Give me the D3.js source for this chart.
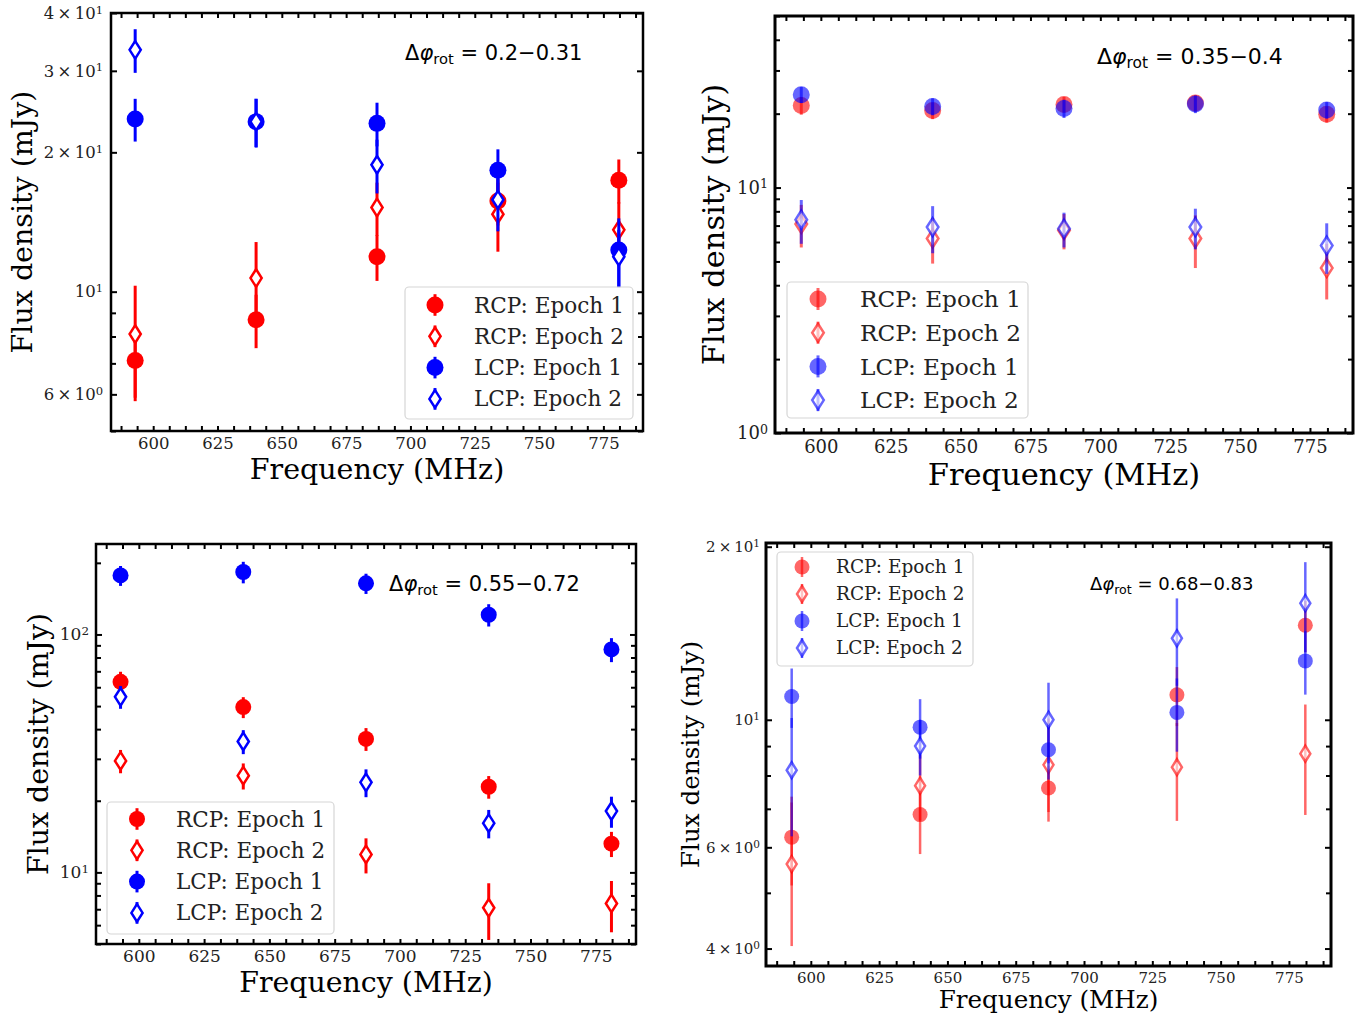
<!DOCTYPE html>
<html>
<head>
<meta charset="utf-8">
<script src="https://cdn.jsdelivr.net/npm/d3@7"></script>
<style>
  body { margin: 0; background: #fff; }
</style>
</head>
<body>
<div id="chart"></div>
<script>
var svgWidth = 1371;
var svgHeight = 1019;

// shared x values (MHz) and legend names
var freqs = [593, 640, 687, 734, 781];
var seriesNames = ["RCP: Epoch 1", "RCP: Epoch 2", "LCP: Epoch 1", "LCP: Epoch 2"];
var phaseLabels = ["0.2\u22120.31", "0.35\u22120.4", "0.55\u22120.72", "0.68\u22120.83"];
var xTickLabels = [600, 625, 650, 675, 700, 725, 750, 775];

// panel A  (dphi 0.2-0.31)
var rcp1A = [7.1, 8.7, 11.9, 15.7, 17.4];
var rcp1ErrA = [1.3, 1.15, 1.35, 1.8, 1.9];
var rcp2A = [8.1, 10.7, 15.2, 14.7, 13.6];
var rcp2ErrA = [2.2, 2.1, 2.0, 2.5, 2.0];
var lcp1A = [23.6, 23.3, 23.1, 18.3, 12.3];
var lcp1ErrA = [2.5, 2.8, 2.5, 2.0, 2.1];
var lcp2A = [33.3, 23.3, 18.8, 15.8, 11.9];
var lcp2ErrA = [3.6, 2.8, 2.5, 2.3, 1.7];
var yTicksA = [[40, "4", "1"], [30, "3", "1"], [20, "2", "1"], [10, "", "1"], [6, "6", "0"]];

// panel B  (dphi 0.35-0.4)
var rcp1B = [21.6, 20.6, 21.8, 22.1, 19.9];
var rcp1ErrB = [1.8, 1.6, 1.6, 1.7, 1.5];
var rcp2B = [7.1, 6.2, 6.7, 6.2, 4.7];
var rcp2ErrB = [1.4, 1.3, 1.1, 1.5, 1.2];
var lcp1B = [23.9, 21.4, 21.0, 21.9, 20.7];
var lcp1ErrB = [1.8, 1.7, 1.8, 1.8, 1.6];
var lcp2B = [7.4, 6.9, 6.8, 6.9, 5.8];
var lcp2ErrB = [1.5, 1.5, 1.1, 1.3, 1.35];
var yTicksB = [[10, "", "1"], [1, "", "0"]];

// panel C  (dphi 0.55-0.72)
var rcp1C = [63.2, 49.5, 36.4, 22.9, 13.2];
var rcp1ErrC = [6.5, 5, 4, 2.5, 1.6];
var rcp2C = [29.4, 25.5, 11.9, 7.1, 7.4];
var rcp2ErrC = [3.3, 3.2, 2.0, 1.9, 1.8];
var lcp1C = [177, 183, 164, 121, 86.5];
var lcp1ErrC = [17, 19, 16, 13, 10];
var lcp2C = [54.7, 35.5, 23.9, 16.1, 18.1];
var lcp2ErrC = [6, 4.1, 3.2, 2.2, 2.7];
var yTicksC = [[100, "", "2"], [10, "", "1"]];

// panel D  (dphi 0.68-0.83)
var rcp1D = [6.25, 6.84, 7.61, 11.05, 14.6];
var rcp1ErrD = [1.1, 1.0, 0.7, 1.3, 1.5];
var rcp2D = [5.61, 7.68, 8.35, 8.27, 8.73];
var rcp2ErrD = [1.57, 1.0, 1.7, 1.6, 1.9];
var lcp1D = [10.98, 9.71, 8.87, 10.3, 12.66];
var lcp1ErrD = [1.3, 1.15, 1.0, 1.5, 1.6];
var lcp2D = [8.17, 9.0, 10.0, 13.86, 15.95];
var lcp2ErrD = [1.9, 1.0, 1.6, 2.4, 2.85];
var yTicksD = [[20, "2", "1"], [10, "", "1"], [6, "6", "0"], [4, "4", "0"]];

var seriesColors = ["#ff0000", "#ff0000", "#0000ff", "#0000ff"];
var seriesShapes = ["circle", "diamond", "circle", "diamond"];

var svg = d3.select("#chart")
    .append("svg")
    .attr("width", svgWidth)
    .attr("height", svgHeight);

var serif = "'DejaVu Serif', serif";
var sans = "'DejaVu Sans', sans-serif";

var xDomain = [583.6, 790.4];
var xMinor = d3.range(587.5, 790, 6.25).filter(v => xTickLabels.indexOf(v) < 0);

var panels = [
  {id: "a", left: 111, top: 13, right: 643, bottom: 431, yDomain: [5, 40], yTicks: yTicksA,
   values: [rcp1A, rcp2A, lcp1A, lcp2A], errs: [rcp1ErrA, rcp2ErrA, lcp1ErrA, lcp2ErrA],
   alpha: 1, r: 8.5, dh: 8.8, dw: 5.6, lw: 3, frame: 2.5,
   tickFont: 16.5, labelFont: 28.5, legendFont: 21.6, titleFont: 21,
   xPad: 6, yPad: 8, xLabelY: 479, yLabelX: 22,
   title: {x: 405, y: 60}, phase: phaseLabels[0],
   legend: {x: 405, y: 287, w: 228, h: 132, mx: 435, tx: 474, y0: 305, dy: 31.3}},
  {id: "b", left: 775, top: 16, right: 1353, bottom: 433, yDomain: [1, 50], yTicks: yTicksB,
   values: [rcp1B, rcp2B, lcp1B, lcp2B], errs: [rcp1ErrB, rcp2ErrB, lcp1ErrB, lcp2ErrB],
   alpha: 0.6, r: 8.5, dh: 9, dw: 5.8, lw: 3, frame: 3,
   tickFont: 18, labelFont: 30.5, legendFont: 23.2, titleFont: 22,
   xPad: 7, yPad: 7, xLabelY: 485, yLabelX: 713,
   title: {x: 1097, y: 64}, phase: phaseLabels[1],
   legend: {x: 787, y: 282, w: 241, h: 136, mx: 818, tx: 860, y0: 299, dy: 33.7}},
  {id: "c", left: 96, top: 544, right: 636, bottom: 944, yDomain: [5, 240], yTicks: yTicksC,
   values: [rcp1C, rcp2C, lcp1C, lcp2C], errs: [rcp1ErrC, rcp2ErrC, lcp1ErrC, lcp2ErrC],
   alpha: 1, r: 8, dh: 8.8, dw: 5.6, lw: 3, frame: 2.5,
   tickFont: 17, labelFont: 28.4, legendFont: 21.5, titleFont: 21,
   xPad: 6, yPad: 7, xLabelY: 992, yLabelX: 38,
   title: {x: 389, y: 591}, phase: phaseLabels[2],
   legend: {x: 107, y: 802, w: 227, h: 132, mx: 137, tx: 176, y0: 819, dy: 31.3}},
  {id: "d", left: 766, top: 543, right: 1331, bottom: 966, yDomain: [3.73, 20.3], yTicks: yTicksD,
   values: [rcp1D, rcp2D, lcp1D, lcp2D], errs: [rcp1ErrD, rcp2ErrD, lcp1ErrD, lcp2ErrD],
   alpha: 0.6, r: 7.5, dh: 8, dw: 5, lw: 2.5, frame: 3,
   tickFont: 15, labelFont: 24.6, legendFont: 18.5, titleFont: 18,
   xPad: 6, yPad: 6, xLabelY: 1008, yLabelX: 690,
   title: {x: 1090, y: 590}, phase: phaseLabels[3],
   legend: {x: 777, y: 552, w: 196, h: 114, mx: 802, tx: 836, y0: 567, dy: 27}}
];

function markerPath(g, shape, cx, cy, p, color) {
  if (shape === "circle") {
    g.append("circle")
      .attr("cx", cx).attr("cy", cy).attr("r", p.r)
      .attr("fill", color).attr("fill-opacity", p.alpha);
  } else {
    g.append("path")
      .attr("d", `M${cx},${cy - p.dh}L${cx + p.dw},${cy}L${cx},${cy + p.dh}L${cx - p.dw},${cy}Z`)
      .attr("fill", "#fff").attr("fill-opacity", p.alpha)
      .attr("stroke", color).attr("stroke-opacity", p.alpha)
      .attr("stroke-width", 2.5);
  }
}

function minorLogTicks(dom) {
  var out = [];
  for (var e = -1; e < 4; e++) {
    for (var m = 1; m < 10; m++) {
      var v = m * Math.pow(10, e);
      if (v >= dom[0] * 0.999 && v <= dom[1] * 1.001) out.push(v);
    }
  }
  return out;
}

function drawPanel(p) {
  var x = d3.scaleLinear().domain(xDomain).range([p.left, p.right]);
  var y = d3.scaleLog().domain(p.yDomain).range([p.bottom, p.top]);
  var g = svg.append("g");

  g.append("clipPath").attr("id", "clip-" + p.id)
    .append("rect")
    .attr("x", p.left).attr("y", p.top)
    .attr("width", p.right - p.left).attr("height", p.bottom - p.top);

  // data: error bars then markers, one series after another
  var plot = g.append("g").attr("clip-path", `url(#clip-${p.id})`);
  p.values.forEach(function(vals, s) {
    var sg = plot.append("g");
    var color = seriesColors[s];
    sg.selectAll("line")
      .data(freqs)
      .enter()
      .append("line")
      .attr("x1", d => x(d)).attr("x2", d => x(d))
      .attr("y1", (d, i) => y(vals[i] + p.errs[s][i]))
      .attr("y2", (d, i) => y(Math.max(vals[i] - p.errs[s][i], 0.1)))
      .attr("stroke", color).attr("stroke-opacity", p.alpha)
      .attr("stroke-width", p.lw);
    freqs.forEach(function(f, i) {
      markerPath(sg, seriesShapes[s], x(f), y(vals[i]), p, color);
    });
  });

  // ticks, all pointing inwards
  var tl = 5, tly = 6;
  var axes = g.append("g");
  axes.append("g")
    .attr("transform", `translate(0,${p.bottom})`)
    .call(d3.axisBottom(x).tickValues(xTickLabels).tickSizeInner(-tl).tickSizeOuter(0).tickPadding(p.xPad));
  axes.append("g")
    .attr("transform", `translate(0,${p.bottom})`)
    .call(d3.axisBottom(x).tickValues(xMinor).tickSize(-tl).tickFormat(""));
  axes.append("g")
    .attr("transform", `translate(0,${p.top})`)
    .call(d3.axisTop(x).tickValues(xTickLabels.concat(xMinor)).tickSize(-tl).tickFormat(""));

  var yLabelled = p.yTicks.map(d => d[0]);
  var yMinor = minorLogTicks(p.yDomain).filter(v => yLabelled.indexOf(v) < 0);
  var leftAxis = axes.append("g")
    .attr("transform", `translate(${p.left},0)`)
    .call(d3.axisLeft(y).tickValues(yLabelled).tickSizeInner(-tly).tickSizeOuter(0).tickPadding(p.yPad).tickFormat(""));
  axes.append("g")
    .attr("transform", `translate(${p.left},0)`)
    .call(d3.axisLeft(y).tickValues(yMinor).tickSize(-tl).tickFormat(""));
  axes.append("g")
    .attr("transform", `translate(${p.right},0)`)
    .call(d3.axisRight(y).tickValues(yLabelled).tickSize(-tly).tickFormat(""));
  axes.append("g")
    .attr("transform", `translate(${p.right},0)`)
    .call(d3.axisRight(y).tickValues(yMinor).tickSize(-tl).tickFormat(""));

  axes.selectAll(".domain").remove();
  axes.selectAll(".tick line").attr("stroke", "#000").attr("stroke-width", 2);
  axes.selectAll("text")
    .attr("font-family", serif)
    .attr("font-size", p.tickFont)
    .attr("fill", "#222");

  // y labels like 4 x 10^1
  leftAxis.selectAll(".tick text").each(function(v, i) {
    var t = d3.select(this);
    var lab = p.yTicks[i];
    t.text(lab[1] ? lab[1] + "\u2009\u00d7\u200910" : "10");
    t.append("tspan")
      .attr("dy", "-0.45em")
      .attr("font-size", p.tickFont * 0.7)
      .text(lab[2]);
  });

  // frame
  g.append("rect")
    .attr("x", p.left).attr("y", p.top)
    .attr("width", p.right - p.left).attr("height", p.bottom - p.top)
    .attr("fill", "none").attr("stroke", "#000").attr("stroke-width", p.frame);

  // axis titles
  g.append("text")
    .attr("x", (p.left + p.right) / 2).attr("y", p.xLabelY)
    .attr("text-anchor", "middle")
    .attr("font-family", serif).attr("font-size", p.labelFont)
    .attr("fill", "#000")
    .text("Frequency (MHz)");
  g.append("text")
    .attr("transform", `translate(${p.yLabelX},${(p.top + p.bottom) / 2})rotate(-90)`)
    .attr("text-anchor", "middle").attr("dy", "0.35em")
    .attr("font-family", serif).attr("font-size", p.labelFont)
    .attr("fill", "#000")
    .text("Flux density (mJy)");

  // phase annotation
  var title = g.append("text")
    .attr("x", p.title.x).attr("y", p.title.y)
    .attr("font-family", sans).attr("font-size", p.titleFont)
    .attr("fill", "#000");
  title.append("tspan").text("\u0394");
  title.append("tspan").attr("font-style", "italic").text("\u03c6");
  title.append("tspan").attr("dy", "0.28em").attr("font-size", p.titleFont * 0.7).text("rot");
  title.append("tspan").attr("dy", "-0.2em").text(" = " + p.phase);

  // legend
  var L = p.legend;
  var lg = g.append("g");
  lg.append("rect")
    .attr("x", L.x).attr("y", L.y).attr("width", L.w).attr("height", L.h)
    .attr("rx", 4)
    .attr("fill", "#fff").attr("fill-opacity", 0.85)
    .attr("stroke", "#d6d6d6").attr("stroke-width", 1.2);
  seriesNames.forEach(function(name, s) {
    var cy = L.y0 + s * L.dy;
    var color = seriesColors[s];
    lg.append("line")
      .attr("x1", L.mx).attr("x2", L.mx)
      .attr("y1", cy - p.dh - 2).attr("y2", cy + p.dh + 2)
      .attr("stroke", color).attr("stroke-opacity", p.alpha)
      .attr("stroke-width", p.lw);
    markerPath(lg, seriesShapes[s], L.mx, cy, p, color);
    lg.append("text")
      .attr("x", L.tx).attr("y", cy).attr("dy", "0.35em")
      .attr("font-family", serif).attr("font-size", p.legendFont)
      .attr("fill", "#222")
      .text(name);
  });
}

panels.forEach(drawPanel);
</script>
</body>
</html>
